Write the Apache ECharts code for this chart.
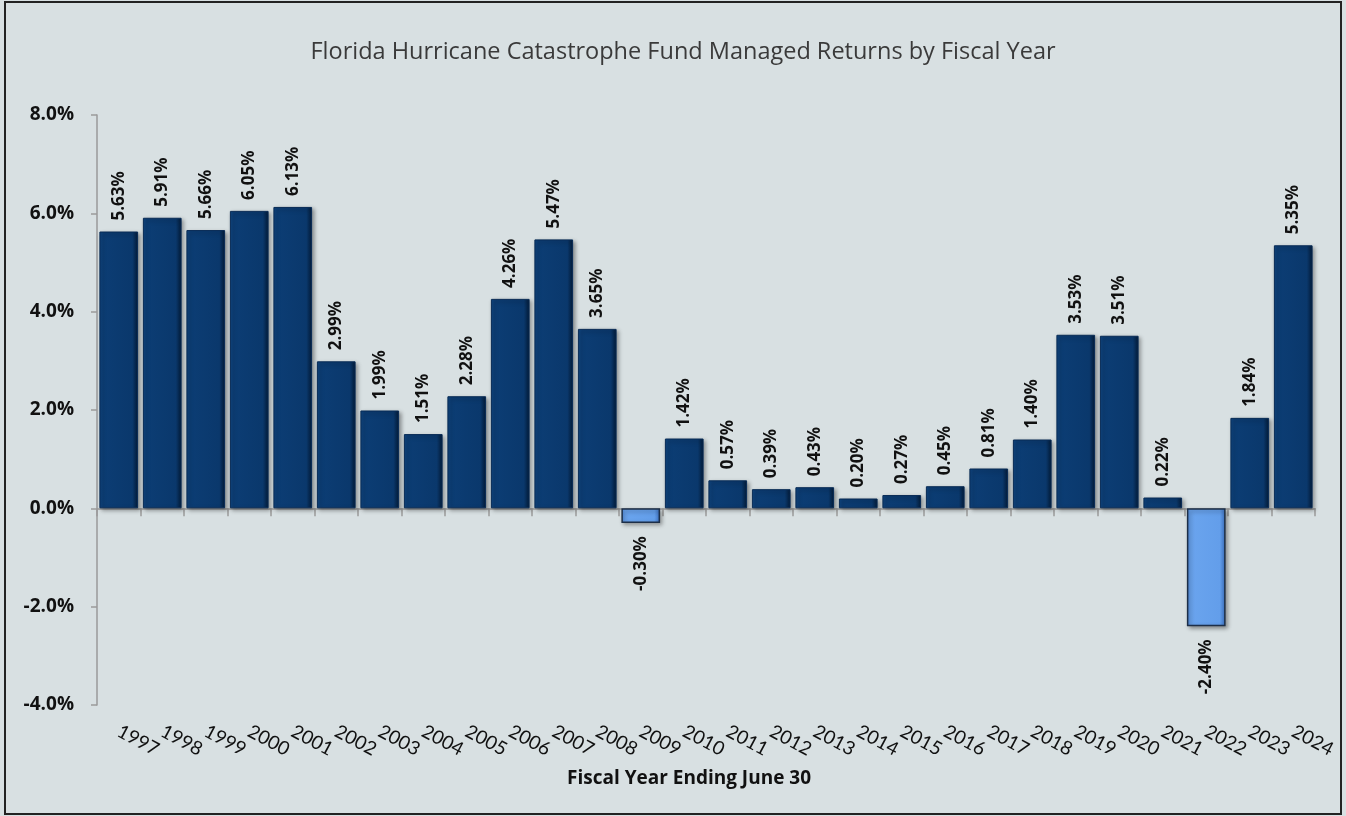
<!DOCTYPE html>
<html>
<head>
<meta charset="utf-8">
<title>FHCF Managed Returns</title>
<script src="https://cdn.jsdelivr.net/npm/echarts@6/dist/echarts.min.js"></script>
<style>
    html, body { margin: 0; padding: 0; background: #d8e0e2; }
    #chart { width: 1346px; height: 816px; }
</style>
</head>
<body>
<div id="chart"></div>
<script>
    // fiscal years ending June 30
    var years = ['1997', '1998', '1999', '2000', '2001', '2002', '2003', '2004', '2005', '2006',
        '2007', '2008', '2009', '2010', '2011', '2012', '2013', '2014', '2015', '2016',
        '2017', '2018', '2019', '2020', '2021', '2022', '2023', '2024'];

    // managed return, percent
    var returns = [5.63, 5.91, 5.66, 6.05, 6.13, 2.99, 1.99, 1.51, 2.28, 4.26,
        5.47, 3.65, -0.30, 1.42, 0.57, 0.39, 0.43, 0.20, 0.27, 0.45,
        0.81, 1.40, 3.53, 3.51, 0.22, -2.40, 1.84, 5.35];

    var yTicks = { min: -4, max: 8, step: 2 };

    var titleText = 'Florida Hurricane Catastrophe Fund Managed Returns by Fiscal Year';
    var axisTitle = 'Fiscal Year Ending June 30';

    var posColor = new echarts.graphic.LinearGradient(0, 0, 1, 0, [
        { offset: 0, color: '#0f4580' },
        { offset: 0.1, color: '#0c3d74' },
        { offset: 0.85, color: '#0a386c' },
        { offset: 1, color: '#031a36' }
    ]);
    var negColor = new echarts.graphic.LinearGradient(0, 0, 1, 0, [
        { offset: 0, color: '#4f88d8' },
        { offset: 0.1, color: '#6aa4ee' },
        { offset: 0.85, color: '#639eea' },
        { offset: 1, color: '#3a6fbf' }
    ]);

    var barData = [];
    returns.forEach(function (v) {
        var neg = v < 0;
        barData.push({
            value: v,
            itemStyle: {
                color: neg ? negColor : posColor,
                borderColor: neg ? '#1d2f48' : '#082b55',
                borderWidth: neg ? 1.5 : 1
            },
            label: {
                position: neg ? 'bottom' : 'top',
                align: neg ? 'right' : 'left',
                distance: neg ? 13 : 11
            }
        });
    });

    var chart = echarts.init(document.getElementById('chart'));

    var option = {
        backgroundColor: '#d8e0e2',
        animation: false,
        title: [{
            text: titleText,
            left: 678,
            top: 35,
            textAlign: 'center',
            textStyle: {
                fontFamily: 'Open Sans',
                fontSize: 23.5,
                fontWeight: 'normal',
                color: '#3a3a3a'
            }
        }, {
            text: axisTitle,
            left: 684,
            top: 764,
            textAlign: 'center',
            textStyle: {
                fontFamily: 'Open Sans',
                fontSize: 19,
                fontWeight: 'bold',
                color: '#111'
            }
        }],
        graphic: [{
            type: 'rect',
            shape: { x: 5, y: 2, width: 1336, height: 812 },
            style: { fill: 'none', stroke: '#222', lineWidth: 2 },
            silent: true
        }],
        grid: {
            left: 97,
            right: 31,
            top: 115,
            bottom: 111
        },
        xAxis: [{
            type: 'category',
            data: years,
            position: 'bottom',
            axisLine: { show: false, onZero: false },
            axisTick: { show: false },
            axisLabel: {
                rotate: -28,
                margin: 25,
                fontFamily: 'Lato',
                fontSize: 19,
                color: '#111',
                interval: 0
            }
        }, {
            // zero line with boundary ticks
            type: 'category',
            data: years,
            position: 'bottom',
            axisLine: { show: true, onZero: true, lineStyle: { color: '#9a9a9a', width: 1.5 } },
            axisTick: { show: true, length: 8, interval: 0, lineStyle: { color: '#9a9a9a', width: 1.5 } },
            axisLabel: { show: false }
        }],
        yAxis: {
            type: 'value',
            min: yTicks.min,
            max: yTicks.max,
            interval: yTicks.step,
            axisLine: { show: true, lineStyle: { color: '#9a9a9a', width: 1.5 } },
            axisTick: { show: true, length: 6, lineStyle: { color: '#9a9a9a', width: 1.5 } },
            splitLine: { show: false },
            axisLabel: {
                margin: 23,
                fontFamily: 'Open Sans',
                fontSize: 19,
                fontWeight: 'bold',
                color: '#111',
                formatter: function (v) {
                    return v.toFixed(1) + '%';
                }
            }
        },
        series: [{
            type: 'bar',
            xAxisIndex: 0,
            data: barData,
            barCategoryGap: '11%',
            itemStyle: {
                shadowColor: 'rgba(0, 0, 0, 0.35)',
                shadowBlur: 4,
                shadowOffsetX: 2,
                shadowOffsetY: 2
            },
            label: {
                show: true,
                rotate: 90,
                verticalAlign: 'middle',
                fontFamily: 'Open Sans',
                fontSize: 17,
                fontWeight: 'bold',
                color: '#111',
                formatter: function (p) {
                    return p.value.toFixed(2) + '%';
                }
            }
        }]
    };

    chart.setOption(option);
</script>
</body>
</html>
